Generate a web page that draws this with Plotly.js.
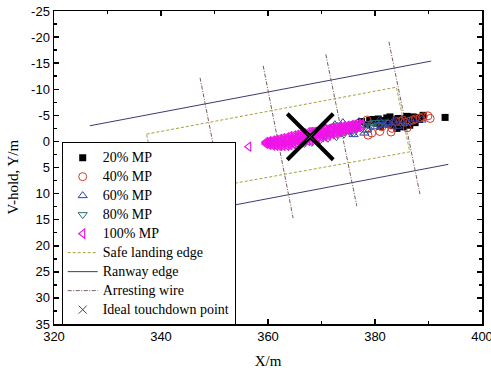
<!DOCTYPE html>
<html>
<head>
<meta charset="utf-8">
<script src="https://cdn.plot.ly/plotly-3.0.1.min.js"></script>
<style>html,body{margin:0;padding:0;background:#fff;}#chart{width:491px;height:371px;}</style>
</head>
<body>
<div id="chart"></div>
<script>
// ---- data ----
const seriesNames = ["20% MP", "40% MP", "60% MP", "80% MP", "100% MP"];

const mp20 = [[376.5,-3.0],[377.5,-3.8],[378.5,-3.2],[379.0,-4.0],[379.6,-4.2],[380.3,-3.5],[380.6,-4.3],
  [381.0,-2.9],[381.4,-3.6],[381.8,-4.0],[382.2,-4.5],[382.8,-4.7],[382.8,-3.5],[383.1,-4.1],[383.5,-3.0],
  [384.1,-2.5],[384.3,-4.4],[384.6,-3.4],[385.2,-2.8],[385.5,-3.8],[385.8,-4.4],[386.0,-4.8],[386.5,-3.1],
  [386.8,-4.0],[387.1,-4.7],[387.5,-3.6],[387.9,-4.6],[388.3,-4.2],[389.0,-5.0],[393.1,-4.6]];

const mp40 = [[372.0,-2.6],[374.0,-1.8],[376.0,-3.2],[378.5,-4.1],[378.7,-1.2],[379.4,-1.6],[380.9,-1.9],
  [381.3,-2.8],[382.5,-3.3],[383.2,-2.5],[384.0,-3.8],[384.7,-3.8],[385.2,-4.1],[385.6,-3.7],[386.5,-3.9],
  [387.1,-4.1],[387.5,-4.3],[388.4,-4.5],[389.0,-4.7],[389.9,-4.9],[390.3,-4.4],[383.0,-1.8],[386.0,-2.6]];

const mp60 = [[369.5,-2.0],[370.5,-2.8],[371.5,-1.5],[372.5,-3.2],[373.2,-2.2],[374.0,-3.6],[374.8,-1.9],
  [375.5,-3.0],[376.3,-2.4],[377.0,-3.8],[377.8,-3.1],[378.5,-2.2],[379.2,-3.5],[380.0,-2.8],[380.8,-4.0],
  [381.5,-3.3],[381.9,-3.1],[382.4,-3.6],[383.4,-3.5],[383.4,-3.9],[384.2,-2.9],[385.0,-4.1],[386.0,-3.6],
  [387.0,-4.3],[388.7,-4.1],[378.0,-1.6],[376.0,-1.3]];

const mp80 = [[362.5,0.9],[363.8,1.0],[364.5,-0.5],[365.2,0.8],[366.0,-1.2],[366.8,0.4],[367.5,-1.6],
  [368.2,0.2],[369.0,-1.9],[369.8,-0.3],[370.5,-1.0],[371.2,-0.6],[372.0,-2.4],[372.8,-0.9],[373.5,-1.7],
  [374.2,-1.4],[375.0,-2.9],[375.7,-1.8],[376.4,-2.4],[377.2,-3.2],[377.9,-2.3],[378.6,-3.4],[379.3,-2.8],
  [380.0,-3.6],[380.7,-3.0],[381.4,-3.7],[373.0,-3.1],[371.0,-2.7],[368.5,-2.2],[376.0,-1.6]];

const mp100 = [[356.4,1.0],
  [359.6,0.5],[359.6,0.3],[359.6,0.1],
  [360.2,0.65],[360.2,0.45],[360.2,0.3],[360.2,0.1],[360.2,-0.05],
  [360.9,0.8],[360.9,0.55],[360.9,0.3],[360.9,0.05],[360.9,-0.2],
  [361.5,0.85],[361.5,0.55],[361.5,0.25],[361.5,-0.05],[361.5,-0.35],
  [362.2,0.9],[362.2,0.55],[362.2,0.2],[362.2,-0.15],[362.2,-0.5],
  [362.8,0.85],[362.8,0.5],[362.8,0.1],[362.8,-0.3],[362.8,-0.65],
  [363.5,0.8],[363.5,0.4],[363.5,0.0],[363.5,-0.4],[363.5,-0.8],
  [364.1,0.7],[364.1,0.3],[364.1,-0.15],[364.1,-0.6],[364.1,-1.0],
  [364.8,0.55],[364.8,0.1],[364.8,-0.3],[364.8,-0.75],[364.8,-1.15],
  [365.4,0.4],[365.4,-0.05],[365.4,-0.45],[365.4,-0.9],[365.4,-1.3],
  [366.1,0.25],[366.1,-0.2],[366.1,-0.6],[366.1,-1.05],[366.1,-1.45],
  [366.7,0.05],[366.7,-0.35],[366.7,-0.75],[366.7,-1.15],[366.7,-1.55],
  [367.4,-0.1],[367.4,-0.5],[367.4,-0.9],[367.4,-1.3],[367.4,-1.7],
  [368.0,-0.2],[368.0,-0.6],[368.0,-1.0],[368.0,-1.4],[368.0,-1.8],
  [368.7,-0.4],[368.7,-0.75],[368.7,-1.15],[368.7,-1.5],[368.7,-1.9],
  [369.3,-0.55],[369.3,-0.9],[369.3,-1.3],[369.3,-1.7],[369.3,-2.05],
  [370.0,-0.75],[370.0,-1.1],[370.0,-1.45],[370.0,-1.8],[370.0,-2.15],
  [370.6,-0.9],[370.6,-1.25],[370.6,-1.6],[370.6,-1.95],[370.6,-2.3],
  [371.3,-1.1],[371.3,-1.4],[371.3,-1.75],[371.3,-2.1],[371.3,-2.4],
  [372.0,-1.35],[372.0,-1.65],[372.0,-1.95],[372.0,-2.25],[372.0,-2.55],
  [372.7,-1.5],[372.7,-1.8],[372.7,-2.1],[372.7,-2.4],[372.7,-2.7],
  [373.4,-1.75],[373.4,-2.0],[373.4,-2.3],[373.4,-2.6],[373.4,-2.85],
  [374.1,-1.95],[374.1,-2.2],[374.1,-2.45],[374.1,-2.7],[374.1,-2.95],
  [374.8,-2.15],[374.8,-2.4],[374.8,-2.6],[374.8,-2.85],[374.8,-3.05],
  [375.5,-2.35],[375.5,-2.55],[375.5,-2.75],[375.5,-2.95],[375.5,-3.15],
  [376.2,-2.55],[376.2,-2.9],[376.2,-3.25],
  [376.9,-2.75],[376.9,-3.05],[376.9,-3.35],
  [377.5,-3.0],[377.5,-3.3]];

// reference geometry lines (x, y); null separates segments
const safeEdgeX = [337.3, 384.0, 386.5, 339.7, 337.3];
const safeEdgeY = [-1.4, -10.4, 2.0, 10.6, -1.4];
const runwayX = [326.7, 390.5, null, 330.6, 393.7];
const runwayY = [-3.0, -15.4, null, 16.7, 4.4];
const wireX = [347.3, 352.9, null, 359.1, 364.7, null, 370.8, 376.6, null, 382.6, 388.4];
const wireY = [-12.2, 17.0, null, -14.5, 14.7, null, -16.7, 12.4, null, -19.1, 10.1];
const idealX = [367.9];
const idealY = [-0.9];

const xTicks = [320, 340, 360, 380, 400];
const yTicks = [-25, -20, -15, -10, -5, 0, 5, 10, 15, 20, 25, 30, 35];
const lineNames = ["Safe landing edge", "Ranway edge", "Arresting wire", "Ideal touchdown point"];

// ---- traces ----
const colX = pts => pts.map(p => p[0]);
const colY = pts => pts.map(p => p[1]);
const legName = s => '<span style="font-size:14px">' + s + '</span>';

const styles = [
  {symbol: 'square', color: '#000000', size: 7, lw: 0},
  {symbol: 'circle-open', color: '#d03a2a', size: 8, lw: 1},
  {symbol: 'triangle-up-open', color: '#2f3fa8', size: 8, lw: 1},
  {symbol: 'triangle-down-open', color: '#2d6f72', size: 8, lw: 1},
  {symbol: 'triangle-left-open', color: '#f014e8', size: 8, lw: 1.2}
];
const seriesData = [mp20, mp40, mp60, mp80, mp100];

const lineTraces = [
  {type: 'scatter', mode: 'lines', name: legName(lineNames[0]), legendrank: 6, x: safeEdgeX, y: safeEdgeY,
   line: {color: '#a8a040', width: 1, dash: '3px,2px'}},
  {type: 'scatter', mode: 'lines', name: legName(lineNames[1]), legendrank: 7, x: runwayX, y: runwayY,
   line: {color: '#3b3b70', width: 1}},
  {type: 'scatter', mode: 'lines', name: legName(lineNames[2]), legendrank: 8, x: wireX, y: wireY,
   line: {color: '#7a5c5c', width: 1, dash: '4px,1.5px,1px,1.5px'}}
];

const markerTraces = seriesData.map((pts, i) => ({
  type: 'scatter', mode: 'markers', name: legName(seriesNames[i]), legendrank: i + 1,
  x: colX(pts), y: colY(pts),
  marker: {symbol: styles[i].symbol, color: styles[i].color, size: styles[i].size,
           line: {color: styles[i].color, width: styles[i].lw}}
}));

const idealTraces = [
  {type: 'scatter', mode: 'markers', name: 'ideal-big', showlegend: false, x: idealX, y: idealY,
   marker: {symbol: 'x-thin', size: 46, color: '#000', line: {color: '#000', width: 4}}},
  {type: 'scatter', mode: 'markers', name: legName(lineNames[3]), legendrank: 9, x: idealX, y: idealY,
   marker: {symbol: 'x-thin', size: 8, color: '#444', line: {color: '#444', width: 1}}}
];

const data = lineTraces.concat(markerTraces, idealTraces);

const tickFont = {family: 'Liberation Sans, Arial, sans-serif', size: 13, color: '#000'};
const serif = 'Liberation Serif, Times New Roman, serif';

const layout = {
  width: 491, height: 371,
  margin: {l: 54, r: 9, t: 11, b: 47},
  paper_bgcolor: '#fff', plot_bgcolor: '#fff',
  showlegend: true,
  legend: {x: 0.018, y: 0.581, xanchor: 'left', yanchor: 'top',
    bgcolor: '#fff', bordercolor: '#000', borderwidth: 1,
    font: {family: serif, size: 11, color: '#000'}, tracegroupgap: 0, traceorder: 'normal'},
  xaxis: {range: [320, 400], tickvals: xTicks, ticktext: xTicks.map(String),
    ticks: 'inside', ticklen: 5, tickwidth: 1.5, tickcolor: '#000', ticklabeloverflow: 'allow',
    showline: true, linewidth: 1.5, linecolor: '#000', mirror: 'ticks',
    minor: {dtick: 10, tick0: 320, ticks: 'inside', ticklen: 3, tickwidth: 1.5, tickcolor: '#000', showgrid: false},
    showgrid: false, zeroline: false, tickfont: tickFont,
    title: {text: 'X/m', font: {family: serif, size: 15, color: '#000'}, standoff: 12}},
  yaxis: {range: [35, -25], tickvals: yTicks, ticktext: yTicks.map(String),
    ticks: 'inside', ticklen: 5, tickwidth: 1.5, tickcolor: '#000', ticklabeloverflow: 'allow',
    showline: true, linewidth: 1.5, linecolor: '#000', mirror: 'ticks',
    minor: {dtick: 2.5, tick0: 0, ticks: 'inside', ticklen: 3, tickwidth: 1.5, tickcolor: '#000', showgrid: false},
    showgrid: false, zeroline: false, tickfont: tickFont},
  annotations: [{text: 'V-hold, Y/m', xref: 'paper', yref: 'paper', x: -0.098, y: 0.468,
    xanchor: 'center', yanchor: 'middle', textangle: -90, showarrow: false,
    font: {family: serif, size: 15, color: '#000'}}]
};

Plotly.newPlot('chart', data, layout, {displayModeBar: false, staticPlot: true});
</script>
</body>
</html>
